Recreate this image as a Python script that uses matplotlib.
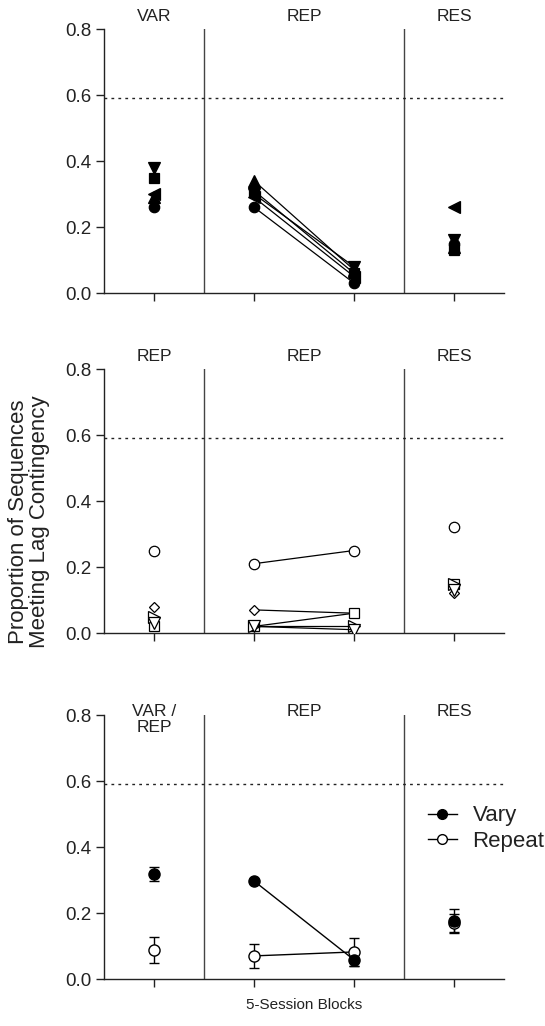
import matplotlib
matplotlib.use("Agg")
import matplotlib.pyplot as plt
from matplotlib.lines import Line2D

plt.rcParams['font.family'] = ['Liberation Sans', 'DejaVu Sans']
plt.rcParams['font.size'] = 12

# Block positions on the x axis (1 = first phase, 2-3 = middle phase, 4 = last phase)
blocks = [1, 2, 3, 4]

# Top panel: individual subjects (filled markers)
top_markers = ['v', 's', '^', '<', 'o']
top_values = [
    [0.38, 0.30, 0.08, 0.16],
    [0.35, 0.31, 0.06, 0.13],
    [0.29, 0.34, 0.07, 0.14],
    [0.30, 0.29, 0.05, 0.26],
    [0.26, 0.26, 0.03, 0.15],
]
top_phases = ['VAR', 'REP', 'RES']

# Middle panel: individual subjects (open markers)
mid_markers = ['o', 'D', 's', '>', 'v']
mid_values = [
    [0.25, 0.21, 0.25, 0.32],
    [0.08, 0.07, 0.06, 0.12],
    [0.02, 0.02, 0.06, 0.15],
    [0.05, 0.02, 0.02, 0.15],
    [0.03, 0.02, 0.01, 0.13],
]
mid_phases = ['REP', 'REP', 'RES']

# Bottom panel: group means with error bars
vary_mean = [0.318, 0.297, 0.058, 0.176]
vary_err = [0.022, 0.0, 0.02, 0.036]
repeat_mean = [0.088, 0.070, 0.082, 0.170]
repeat_err = [0.040, 0.036, 0.042, 0.028]
bot_phases = ['VAR /\nREP', 'REP', 'RES']

criterion = 0.59
yticks = [0.0, 0.2, 0.4, 0.6, 0.8]

fig = plt.figure(figsize=(5.45, 10.26), dpi=100)
left, width, height = 104 / 545, 400 / 545, 264 / 1026
bottoms = [1 - 293 / 1026, 1 - 633 / 1026, 1 - 979 / 1026]
axes = [fig.add_axes([left, b, width, height]) for b in bottoms]

dark = '#222222'


def style_axis(ax):
    ax.set_xlim(0.5, 4.5)
    ax.set_ylim(0, 0.8)
    ax.set_yticks(yticks)
    ax.set_yticklabels([f"{v:.1f}" for v in yticks])
    ax.set_xticks(blocks)
    ax.set_xticklabels([])
    for s in ['top', 'right']:
        ax.spines[s].set_visible(False)
    for s in ['left', 'bottom']:
        ax.spines[s].set_color(dark)
        ax.spines[s].set_linewidth(1.0)
    ax.tick_params(direction='out', length=6, width=1.0, color=dark,
                   labelcolor=dark, labelsize=13.5, pad=3)
    for xv in [1.5, 3.5]:
        ax.axvline(xv, color='#444444', lw=1.0, zorder=1)
    ax.axhline(criterion, color=dark, lw=1.0, ls=(0, (2, 3)), zorder=1)


def phase_labels(ax, labels, y):
    for xv, lab in zip([1, 2.5, 4], labels):
        ax.text(xv, y, lab, ha='center', va='baseline', fontsize=12.5,
                color=dark, transform=ax.get_xaxis_transform())


def draw_subject(ax, vals, marker, filled):
    face = 'black' if filled else 'white'
    ms = 7.5 if marker in ('s', 'o') else 8
    if marker == 'D':
        ms = 5.5
    kw = dict(marker=marker, markersize=ms, markerfacecolor=face,
              markeredgecolor='black', markeredgewidth=0.9, color='black', lw=0.9)
    ax.plot([blocks[0]], [vals[0]], ls='none', zorder=3, **kw)
    ax.plot(blocks[1:3], vals[1:3], zorder=3, **kw)
    ax.plot([blocks[3]], [vals[3]], ls='none', zorder=3, **kw)


# Top panel
ax = axes[0]
style_axis(ax)
for m, vals in zip(top_markers, top_values):
    draw_subject(ax, vals, m, True)
phase_labels(ax, top_phases, 1.03)

# Middle panel
ax = axes[1]
style_axis(ax)
for m, vals in zip(mid_markers, mid_values):
    draw_subject(ax, vals, m, False)
phase_labels(ax, mid_phases, 1.03)

# Bottom panel
ax = axes[2]
style_axis(ax)
for mean, err, face in [(repeat_mean, repeat_err, 'white'),
                        (vary_mean, vary_err, 'black')]:
    kw = dict(marker='o', markersize=8, markerfacecolor=face,
              markeredgecolor='black', markeredgewidth=1.0, color='black',
              lw=1.0, capsize=3.5, elinewidth=1.0, capthick=1.0, ecolor='black')
    for idx in [0, 3]:
        ax.errorbar([blocks[idx]], [mean[idx]], yerr=[err[idx]], ls='none',
                    zorder=3, **kw)
    ax.errorbar(blocks[1:3], mean[1:3], yerr=err[1:3], zorder=3, **kw)
for xv, lab in zip([1, 2.5, 4], bot_phases):
    ax.text(xv, 1.04, lab, ha='center', va='top', fontsize=12.5, color=dark,
            transform=ax.get_xaxis_transform(), linespacing=1.05)

handles = [
    Line2D([], [], marker='o', color='black', lw=1.0, markersize=7,
           markerfacecolor='black', markeredgecolor='black'),
    Line2D([], [], marker='o', color='black', lw=1.0, markersize=7,
           markerfacecolor='white', markeredgecolor='black'),
]
ax.legend(handles, ['Vary', 'Repeat'], loc='center left',
          bbox_to_anchor=(0.81, 0.57), frameon=False, fontsize=16,
          handlelength=1.3, handletextpad=0.7, labelspacing=0.2,
          borderpad=0, borderaxespad=0, labelcolor=dark)

fig.text(29 / 545, 1 - 522 / 1026,
         'Proportion of Sequences\nMeeting Lag Contingency',
         rotation=90, ha='center', va='center', fontsize=16, color=dark,
         linespacing=1.0)
fig.text(304 / 545, 1 - 1005 / 1026, '5-Session Blocks', ha='center',
         va='center', fontsize=11, color=dark)

fig.savefig('out.png', dpi=100)
